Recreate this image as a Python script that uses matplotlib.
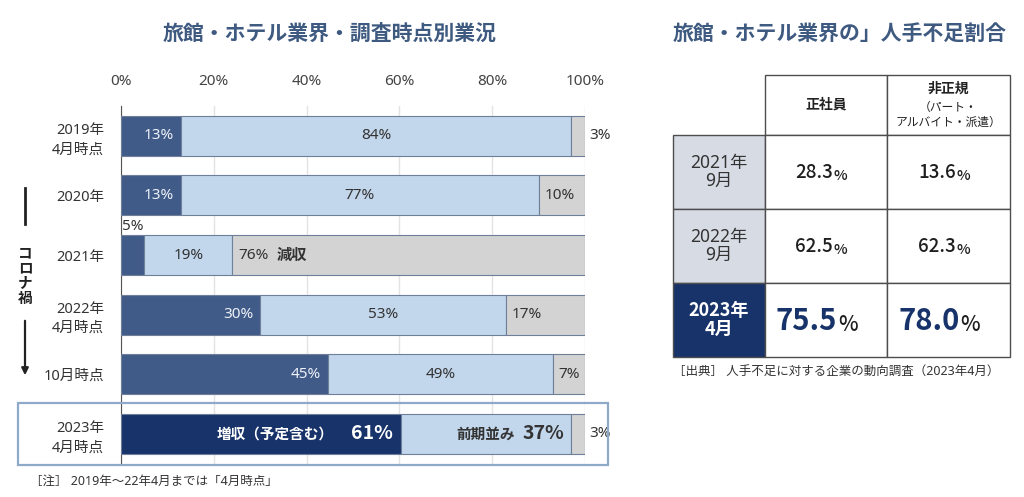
import matplotlib.pyplot as plt
from matplotlib.patches import Rectangle

plt.rcParams['font.family'] = ['Noto Sans', 'Noto Sans CJK JP', 'DejaVu Sans']
CJK = ['Noto Sans CJK JP', 'DejaVu Sans']

# 左：調査時点別業況（%）
periods = ["2019年\n4月時点", "2020年", "2021年", "2022年\n4月時点", "10月時点", "2023年\n4月時点"]
increase = [13, 13, 5, 30, 45, 61]   # 増収
flat = [84, 77, 19, 53, 49, 37]      # 前期並み
decrease = [3, 10, 76, 17, 7, 3]     # 減収
xticks = [0, 20, 40, 60, 80, 100]

# 右：人手不足割合（%）
tbl_rows = ["2021年\n9月", "2022年\n9月", "2023年\n4月"]
tbl_cols = ["正社員", "非正規"]
regular = [28.3, 62.5, 75.5]
nonregular = [13.6, 62.3, 78.0]

TITLE = '#3f5a80'
DARK = '#415b88'
NAVY = '#17336a'
LIGHT = '#c3d7ec'
GREY = '#d3d3d3'
EDGE = '#6f7f99'
TXT = '#333333'

fig = plt.figure(figsize=(10.24, 4.97), dpi=100)

# ---------- 棒グラフ ----------
ax = fig.add_axes([121/1024, 1-465/497, (585-121)/1024, (465-106)/497])
ax.patch.set_alpha(0)
y = list(range(len(periods)))

# 行ごとに合計を100%に揃える
tot = [a + b + c for a, b, c in zip(increase, flat, decrease)]
w_inc = [a / t * 100 for a, t in zip(increase, tot)]
w_flat = [b / t * 100 for b, t in zip(flat, tot)]
w_dec = [c / t * 100 for c, t in zip(decrease, tot)]
left_flat = w_inc
left_dec = [a + b for a, b in zip(w_inc, w_flat)]

inc_colors = [DARK] * (len(periods) - 1) + [NAVY]
h = 0.67
ax.barh(y, w_inc, height=h, color=inc_colors, edgecolor=EDGE, lw=0.8, zorder=3)
ax.barh(y, w_flat, left=left_flat, height=h, color=LIGHT, edgecolor=EDGE, lw=0.8, zorder=3)
ax.barh(y, w_dec, left=left_dec, height=h, color=GREY, edgecolor=EDGE, lw=0.8, zorder=3)

ax.set_xlim(0, 100)
ax.set_ylim(len(periods) - 0.48, -0.5)
ax.set_xticks(xticks)
ax.set_xticklabels([f"{v}%" for v in xticks], fontsize=11, color='#444444')
ax.xaxis.tick_top()
ax.tick_params(axis='x', length=0, pad=12)
ax.set_yticks(y)
ax.set_yticklabels(periods, fontsize=10.5, color=TXT, linespacing=1.4)
ax.tick_params(axis='y', length=0, pad=12)
ax.grid(axis='x', color='#e3e3e3', lw=1, zorder=0)
for s in ['top', 'right', 'bottom']:
    ax.spines[s].set_visible(False)
ax.spines['left'].set_color('#555555')

last = len(periods) - 1
for i in y:
    kw = dict(textcoords='offset pixels', va='center', fontsize=11)
    bkw = dict(textcoords='offset pixels', va='center', fontweight='bold', family=CJK)
    # 増収
    if i == last:
        ax.annotate(f"{increase[i]}%", (w_inc[i], i), xytext=(-8, 0), ha='right',
                    color='white', fontsize=14, **bkw)
        ax.annotate("増収（予定含む）", (w_inc[i], i), xytext=(-68, 0), ha='right',
                    color='white', fontsize=10.5, **bkw)
    elif increase[i] < 10:
        ax.annotate(f"{increase[i]}%", (0, i - h / 2), xytext=(1, 1), ha='left',
                    color=TXT, textcoords='offset pixels', va='bottom', fontsize=11)
    else:
        ax.annotate(f"{increase[i]}%", (w_inc[i], i), xytext=(-7, 0), ha='right',
                    color='#eef2f8', **kw)
    # 前期並み
    if i == last:
        ax.annotate(f"{flat[i]}%", (left_dec[i], i), xytext=(-7, 0), ha='right',
                    color=TXT, fontsize=14, **bkw)
        ax.annotate("前期並み", (left_dec[i], i), xytext=(-56, 0), ha='right',
                    color=TXT, fontsize=10.5, **bkw)
    else:
        ax.annotate(f"{flat[i]}%", (left_flat[i] + w_flat[i] / 2, i), xytext=(0, 0),
                    ha='center', color=TXT, **kw)
    # 減収
    if decrease[i] < 5:
        ax.annotate(f"{decrease[i]}%", (100, i), xytext=(4, 0), ha='left', color=TXT, **kw)
    else:
        t = ax.annotate(f"{decrease[i]}%", (left_dec[i], i), xytext=(6, 0), ha='left',
                        color=TXT, **kw)
        if decrease[i] > 50:
            ax.annotate("減収", (1, 0.5), xycoords=t, xytext=(8, 0), textcoords='offset pixels',
                        va='center', ha='left', color=TXT, fontweight='bold', family=CJK,
                        fontsize=11)

fig.text(330/1024, 1-33/497, "旅館・ホテル業界・調査時点別業況", ha='center', va='center',
         fontsize=15, fontweight='bold', color=TITLE, family=CJK)

# ---------- 重ね描き（注記・表） ----------
ov = fig.add_axes([0, 0, 1, 1], zorder=10)
ov.set_xlim(0, 1024)
ov.set_ylim(497, 0)
ov.axis('off')
ov.patch.set_alpha(0)

# 2023年の枠
ov.add_patch(Rectangle((18, 403), 590, 62, fill=False, ec='#8fa9c9', lw=1.6))
# コロナ禍
ov.plot([25, 25], [188, 224], color='#222222', lw=2)
ov.text(25, 275, "コ\nロ\nナ\n禍", ha='center', va='center', fontsize=10.5,
        fontweight='bold', family=CJK, color='#222222', linespacing=0.95)
ov.annotate("", xy=(25, 378), xytext=(25, 318),
            arrowprops=dict(arrowstyle='-|>', color='#222222', lw=1.6, mutation_scale=10))
ov.text(30, 481, "［注］ 2019年～22年4月までは「4月時点」", ha='left', va='center',
        fontsize=9, color=TXT)

# 表
fig.text(840/1024, 1-33/497, "旅館・ホテル業界の」人手不足割合", ha='center', va='center',
         fontsize=15, fontweight='bold', color=TITLE, family=CJK)
col_edges = [673, 765, 887, 1010]
row_edges = [75, 135, 209, 283, 357]
LINE = '#4d4d4d'
# 列見出し
for j in range(2):
    x0, x1 = col_edges[j + 1], col_edges[j + 2]
    ov.add_patch(Rectangle((x0, row_edges[0]), x1 - x0, row_edges[1] - row_edges[0],
                           fc='white', ec=LINE, lw=1))
cx = (col_edges[1] + col_edges[2]) / 2
ov.text(cx, 105, tbl_cols[0], ha='center', va='center', fontsize=10, fontweight='bold',
        family=CJK, color='#222222')
cx = (col_edges[2] + col_edges[3]) / 2
ov.text(cx, 89, tbl_cols[1], ha='center', va='center', fontsize=10, fontweight='bold',
        family=CJK, color='#222222')
ov.text(cx, 115, "（パート・\nアルバイト・派遣）", ha='center', va='center', fontsize=8.5,
        color='#222222', linespacing=1.2)

for i, lab in enumerate(tbl_rows):
    y0, y1 = row_edges[i + 1], row_edges[i + 2]
    cy = (y0 + y1) / 2
    hl = (i == len(tbl_rows) - 1)
    ov.add_patch(Rectangle((col_edges[0], y0), col_edges[1] - col_edges[0], y1 - y0,
                           fc=NAVY if hl else '#d6dbe4', ec=LINE, lw=1))
    if hl:
        ov.text((col_edges[0] + col_edges[1]) / 2, cy, lab, ha='center', va='center',
                fontsize=13, fontweight='bold', family=CJK, color='white', linespacing=1.0)
    else:
        ov.text((col_edges[0] + col_edges[1]) / 2, cy, lab, ha='center', va='center',
                fontsize=12.5, color='#333333', linespacing=1.0)
    for j, vals in enumerate([regular, nonregular]):
        x0, x1 = col_edges[j + 1], col_edges[j + 2]
        ov.add_patch(Rectangle((x0, y0), x1 - x0, y1 - y0, fc='white', ec=LINE, lw=1))
        big = hl
        t = ov.text((x0 + x1) / 2 + (11 if big else 7), cy + 1, f"{vals[i]:.1f}",
                    ha='right', va='center', fontsize=21 if big else 13.5,
                    fontweight='bold' if big else 'medium', family=CJK,
                    color=NAVY if big else '#1e1e1e')
        ov.annotate("%", (1, 0), xycoords=t, xytext=(1, 0), textcoords='offset pixels',
                    ha='left', va='bottom', fontsize=15 if big else 10.5,
                    fontweight='medium', family=CJK, color='#1e1e1e')

ov.text(673, 372, "［出典］ 人手不足に対する企業の動向調査（2023年4月）", ha='left', va='center',
        fontsize=9, color=TXT)

fig.savefig("out.png", dpi=100)
